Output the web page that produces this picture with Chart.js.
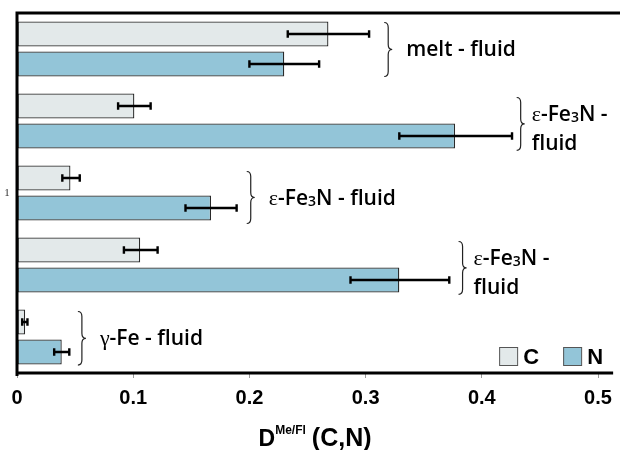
<!DOCTYPE html>
<html>
<head>
<meta charset="utf-8">
<script src="https://cdn.jsdelivr.net/npm/chart.js@4/dist/chart.umd.min.js"></script>
<style>
  html, body { margin: 0; padding: 0; background: #ffffff; }
  #wrap { width: 620px; height: 450px; position: relative; }
</style>
</head>
<body>
<div id="wrap"><canvas id="c"></canvas></div>
<script>
// ---------- data ----------
const categories = ['melt - fluid', 'ε-Fe3N - fluid', 'ε-Fe3N - fluid', 'ε-Fe3N - fluid', 'γ-Fe - fluid'];
const seriesNames = ['C', 'N'];
const cValues = [0.268, 0.101, 0.046, 0.106, 0.007];
const nValues = [0.230, 0.377, 0.167, 0.329, 0.0385];
const cErrLow = [0.233, 0.087, 0.039, 0.092, 0.0045];
const cErrHigh = [0.303, 0.115, 0.054, 0.121, 0.009];
const nErrLow = [0.200, 0.329, 0.145, 0.287, 0.032];
const nErrHigh = [0.260, 0.426, 0.189, 0.372, 0.045];
const xTicks = [0, 0.1, 0.2, 0.3, 0.4, 0.5];
const yTickLabel = '1';

// group annotations: text lines (Greek letters / subscripts marked) and brace anchor (data units)
const groupNotes = [
  { lines: [[['t', 'melt - fluid']]], at: 0.316, dy: 0 },
  { lines: [[['g', 'ε'], ['t', '-Fe'], ['s', '3'], ['t', 'N -']], [['t', 'fluid']]], at: 0.430, dy: 3 },
  { lines: [[['g', 'ε'], ['t', '-Fe'], ['s', '3'], ['t', 'N - fluid']]], at: 0.1977, dy: 5 },
  { lines: [[['g', 'ε'], ['t', '-Fe'], ['s', '3'], ['t', 'N -']], [['t', 'fluid']]], at: 0.380, dy: 3 },
  { lines: [[['g', 'γ'], ['t', '-Fe - fluid']]], at: 0.0524, dy: 1 }
];

const errBars = [[cErrLow, cErrHigh], [nErrLow, nErrHigh]];

const FONT_T = '600 21px "Open Sans", sans-serif';
const FONT_G = '22px "Liberation Serif", "DejaVu Serif", serif';
const FONT_S = '600 14px "Open Sans", sans-serif';

function segFont(k) { return k === 'g' ? FONT_G : (k === 's' ? FONT_S : FONT_T); }
function drawRich(ctx, segs, x, y) {
  let cx = x;
  for (const [k, t] of segs) {
    ctx.font = segFont(k);
    ctx.fillText(t, cx, k === 's' ? y + 1 : y);
    cx += ctx.measureText(t).width;
  }
}

function drawBrace(ctx, x, y0, y1, w) {
  const mid = (y0 + y1) / 2, r = 5, hx = x + w * 0.5;
  ctx.beginPath();
  ctx.moveTo(x, y0);
  ctx.quadraticCurveTo(hx, y0, hx, y0 + r);
  ctx.lineTo(hx, mid - r);
  ctx.quadraticCurveTo(hx, mid, x + w, mid);
  ctx.quadraticCurveTo(hx, mid, hx, mid + r);
  ctx.lineTo(hx, y1 - r);
  ctx.quadraticCurveTo(hx, y1, x, y1);
  ctx.stroke();
}

const extras = {
  id: 'extras',
  afterDatasetsDraw(chart) {
    const ctx = chart.ctx, xs = chart.scales.x;
    ctx.save();
    // error bars
    ctx.strokeStyle = '#000';
    ctx.lineWidth = 2.4;
    chart.data.datasets.forEach((ds, i) => {
      const meta = chart.getDatasetMeta(i);
      const [lo, hi] = errBars[i];
      meta.data.forEach((bar, j) => {
        const y = bar.y;
        const a = xs.getPixelForValue(lo[j]), b = xs.getPixelForValue(hi[j]);
        ctx.beginPath();
        ctx.moveTo(a, y); ctx.lineTo(b, y);
        ctx.moveTo(a, y - 3.8); ctx.lineTo(a, y + 3.8);
        ctx.moveTo(b, y - 3.8); ctx.lineTo(b, y + 3.8);
        ctx.stroke();
      });
    });
    ctx.restore();
  },
  afterDraw(chart) {
    const ctx = chart.ctx, xs = chart.scales.x, area = chart.chartArea;
    const m0 = chart.getDatasetMeta(0), m1 = chart.getDatasetMeta(1);
    ctx.save();
    // frame lines
    ctx.strokeStyle = '#000';
    ctx.lineWidth = 3;
    ctx.beginPath();
    ctx.moveTo(area.left, area.top); ctx.lineTo(chart.width, area.top);
    ctx.moveTo(area.left, area.top - 1.5); ctx.lineTo(area.left, area.bottom + 3);
    ctx.moveTo(area.left - 1.5, area.bottom); ctx.lineTo(area.right, area.bottom);
    ctx.stroke();

    // annotations
    ctx.fillStyle = '#000';
    ctx.strokeStyle = '#222';
    ctx.lineWidth = 1.2;
    ctx.textBaseline = 'alphabetic';
    ctx.textAlign = 'left';
    groupNotes.forEach((note, j) => {
      const b0 = m0.data[j], b1 = m1.data[j];
      const top = b0.y - b0.height / 2 + 1 + note.dy, bot = b1.y + b1.height / 2 + note.dy * 0.6;
      const center = (b0.y + b1.y) / 2;
      const bx = xs.getPixelForValue(note.at);
      drawBrace(ctx, bx, top, bot, 8);
      if (note.lines.length === 1) {
        drawRich(ctx, note.lines[0], bx + 22, center + 7 + note.dy);
      } else {
        drawRich(ctx, note.lines[0], bx + 15, center);
        drawRich(ctx, note.lines[1], bx + 15, center + 29);
      }
    });

    // legend
    const items = chart.data.datasets;
    const lx = [area.right - 114, area.right - 50];
    const ly = area.bottom - 26;
    items.forEach((ds, i) => {
      ctx.fillStyle = ds.backgroundColor;
      ctx.fillRect(lx[i], ly, 18.5, 18.5);
      ctx.strokeStyle = '#555';
      ctx.lineWidth = 1;
      ctx.strokeRect(lx[i] + 0.5, ly + 0.5, 18, 18);
      ctx.fillStyle = '#000';
      ctx.font = 'bold 22px "Liberation Sans", Arial, sans-serif';
      ctx.textBaseline = 'alphabetic';
      ctx.fillText(ds.label, lx[i] + 24, ly + 17);
    });

    // y tick label
    ctx.font = '11px "Liberation Serif", serif';
    ctx.fillStyle = '#333';
    ctx.textAlign = 'center';
    ctx.textBaseline = 'middle';
    ctx.fillText(yTickLabel, 7, (area.top + area.bottom) / 2);

    // x axis title with superscript
    const f1 = 'bold 23px "Liberation Sans", Arial, sans-serif';
    const f2 = 'bold 12px "Liberation Sans", Arial, sans-serif';
    const f3 = 'bold 25px "Liberation Sans", Arial, sans-serif';
    const parts = [['D', f1, 0, 0], ['Me/Fl', f2, -12, 6], ['(C,N)', f3, 0, 0]];
    let tw = 0;
    parts.forEach(p => { ctx.font = p[1]; tw += ctx.measureText(p[0]).width + p[3]; });
    let tx = (area.left + area.right) / 2 - tw / 2;
    const ty = 446;
    ctx.textAlign = 'left';
    ctx.textBaseline = 'alphabetic';
    ctx.fillStyle = '#000';
    parts.forEach(p => {
      ctx.font = p[1];
      ctx.fillText(p[0], tx, ty + p[2]);
      tx += ctx.measureText(p[0]).width + p[3];
    });
    ctx.restore();
  }
};

new Chart(document.getElementById('c'), {
  type: 'bar',
  data: {
    labels: categories,
    datasets: [
      { label: seriesNames[0], data: cValues, backgroundColor: '#e3e9ea', borderColor: '#2a2a2a',
        borderWidth: 1.3, borderSkipped: false, categoryPercentage: 0.833, barPercentage: 0.833 },
      { label: seriesNames[1], data: nValues, backgroundColor: '#93c5d8', borderColor: '#2a2a2a',
        borderWidth: 1.3, borderSkipped: false, categoryPercentage: 0.833, barPercentage: 0.833 }
    ]
  },
  options: {
    indexAxis: 'y',
    responsive: true,
    maintainAspectRatio: false,
    animation: false,
    layout: { padding: { left: 17, top: 13, right: 3, bottom: 0 } },
    plugins: { legend: { display: false }, tooltip: { enabled: false }, title: { display: false } },
    scales: {
      y: { type: 'category', display: false, offset: true },
      x: {
        type: 'linear', min: 0, max: 0.513, position: 'bottom',
        afterBuildTicks: (s) => { s.ticks = xTicks.map(v => ({ value: v })); },
        afterFit: (s) => { s.height = 77; },
        border: { display: false },
        grid: { drawOnChartArea: false, drawTicks: true, tickLength: 5, color: '#999', lineWidth: 1 },
        ticks: {
          color: '#000', padding: 8,
          font: { family: '"Liberation Sans", Arial, sans-serif', size: 20, weight: 'bold' },
          callback: (v) => String(Math.round(v * 10) / 10)
        },
        title: { display: false }
      }
    }
  },
  plugins: [extras]
});
</script>
</body>
</html>
